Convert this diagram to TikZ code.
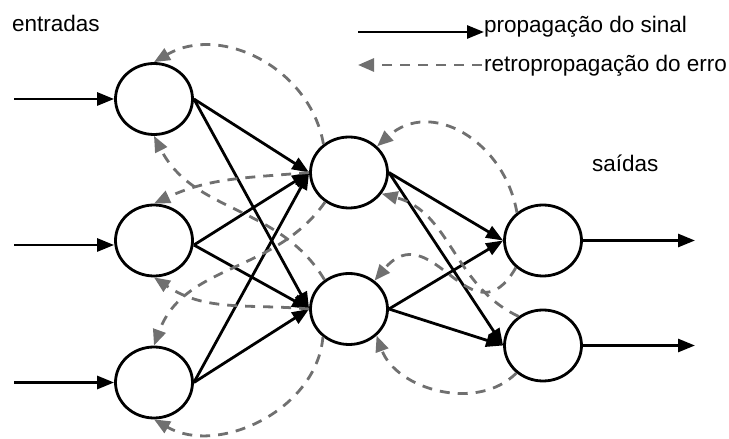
\documentclass[tikz,border=0pt]{standalone}
\usepackage{fontspec}
\setmainfont{Liberation Sans}
\usetikzlibrary{shapes.geometric,arrows.meta}
\definecolor{errgray}{RGB}{112,112,112}
\begin{document}
\begin{tikzpicture}[x=1pt,y=1pt,
  neuron/.style={ellipse, draw=black, line width=2.8pt, minimum width=77pt, minimum height=71pt, inner sep=0pt},
  sig/.style={line width=2.8pt, -{Triangle[length=17pt,width=13pt]}},
  err/.style={draw=errgray, line width=2.8pt, dash pattern=on 10pt off 8pt, -{Triangle[length=16pt,width=13pt]}, errgray},
  lbl/.style={font=\fontsize{22.5}{27}\selectfont, inner sep=0pt, anchor=base west}
]
\useasboundingbox (0,0) rectangle (729,439);
% neurons
\node[neuron] (i1) at (154,340) {};
\node[neuron] (i2) at (154,198.5) {};
\node[neuron] (i3) at (154,56.5) {};
\node[neuron] (h1) at (349,266.5) {};
\node[neuron] (h2) at (349,130) {};
\node[neuron] (o1) at (543,198.5) {};
\node[neuron] (o2) at (543,93.5) {};
% free ends
\coordinate (x1) at (14,340);
\coordinate (x2) at (14,194);
\coordinate (x3) at (14,56.5);
\coordinate (y1) at (695,198.5);
\coordinate (y2) at (695,93.5);
\coordinate (i2w) at ([yshift=-4.5pt]i2.west);
\coordinate (i2e) at ([yshift=-4.5pt]i2.east);
% labels
\node[lbl] (tin) at (12,407) {entradas};
\node[lbl] (tout) at (592,267) {saídas};
\node[lbl] (tsig) at (484,406) {propagação do sinal};
\node[lbl] (terr) at (484,367) {retropropagação do erro};
\coordinate (la) at (358,407);
\coordinate (lb) at (482,374);
\coordinate (lc) at (358,374);
% legend
\draw[sig] (la) -- (tsig.west |- la);
\draw[err] (lb) -- (lc);
% inputs and outputs
\draw[sig] (x1) -- (i1.west);
\draw[sig] (x2) -- (i2w);
\draw[sig] (x3) -- (i3.west);
\draw[sig] (o1.east) -- (y1);
\draw[sig] (o2.east) -- (y2);
% forward connections
\draw[sig] (i1.east) -- (h1.west);
\draw[sig] (i1.east) -- (h2.west);
\draw[sig] (i2e) -- (h1.west);
\draw[sig] (i2e) -- (h2.west);
\draw[sig] (i3.east) -- (h1.west);
\draw[sig] (i3.east) -- (h2.west);
\draw[sig] (h1.east) -- (o1.west);
\draw[sig] (h1.east) -- (o2.west);
\draw[sig] (h2.east) -- (o1.west);
\draw[sig] (h2.east) -- (o2.west);
% error back-propagation
\draw[err] (h1.132) to[out=100,in=30,looseness=1.05] (i1.north);
\draw[err] (h1.west) to[out=185,in=25] (i2.north);
\draw[err] (h2.130) to[out=121,in=-63] (i1.south);
\draw[err] (h1.231) to[out=235,in=70] (i3.north);
\draw[err] (h2.west) to[out=175,in=-34] (i2.south);
\draw[err] (h2.227) to[out=265,in=-30] (i3.south);
\draw[err] (o1.133) to[out=100,in=42,looseness=1.2] (h1.43);
\draw[err] (o2.130) to[out=155,in=-15] (h1.-33);
\draw[err] (o1.225) to[out=240,in=50,looseness=1.6] (h2.48);
\draw[err] (o2.226) to[out=225,in=-70] (h2.-44);
\end{tikzpicture}
\end{document}
